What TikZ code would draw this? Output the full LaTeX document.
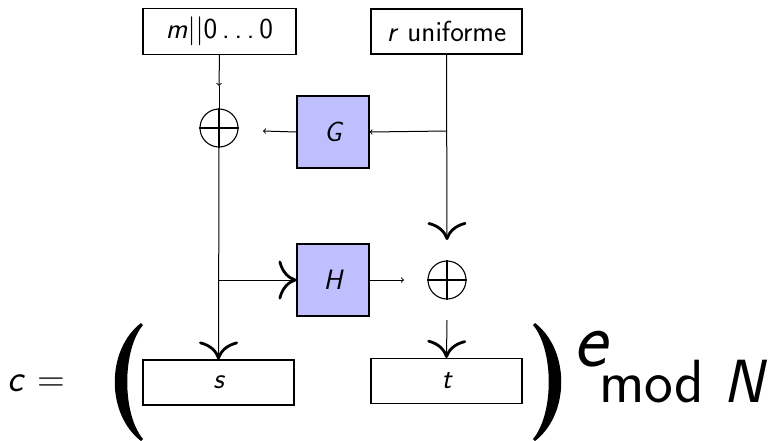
\documentclass[tikz,border=0pt]{standalone}
\usepackage{amsmath}
\usetikzlibrary{arrows.meta}

\tikzset{
  every node/.style={font=\sffamily},
  txt/.style={inner sep=0pt, outer sep=0pt},
  regbox/.style={draw, line width=1.1pt, minimum width=151pt, minimum height=46pt,
    inner sep=0pt, font=\sffamily\fontsize{29}{34}\selectfont},
  fnbox/.style={draw, line width=1.1pt, fill=blue!25, minimum size=72pt, inner sep=0pt,
    font=\sffamily\itshape\fontsize{28}{32}\selectfont},
  xorop/.style={draw, circle, line width=1.1pt, minimum size=38pt, inner sep=0pt},
  wire/.style={line width=1pt},
  small/.style={wire, -to},
  big/.style={wire, -{Computer Modern Rightarrow[length=18pt, width=39pt, line width=2.8pt]}},
  paren/.style={fill=black},
}

\begin{document}
\begin{tikzpicture}[x=1pt, y=-1pt]
\useasboundingbox (0,0) rectangle (772,440);

% input registers
\node[regbox, minimum width=153pt] (mbox) at (219.5,31.5) {\textit{m}||0\,.\,.\,.\,0};
\node[regbox, minimum height=45pt] (rbox) at (446.5,31.5) {\textit{r} uniforme};

% hash functions
\node[fnbox] (G) at (333,132) {G};
\node[fnbox] (H) at (333,280) {H};

% xor gates
\node[xorop] (x1) at (219,128) {};
\node[xorop] (x2) at (447,280) {};
\draw[line width=1.1pt] (x1.north) -- (x1.south) (x1.west) -- (x1.east);
\draw[line width=1.1pt] (x2.north) -- (x2.south) (x2.west) -- (x2.east);

% output registers
\node[regbox, minimum height=45pt, font=\sffamily\itshape\fontsize{29}{34}\selectfont] (s) at (218.5,382.5) {s};
\node[regbox, minimum height=45pt, font=\sffamily\itshape\fontsize{29}{34}\selectfont] (t) at (446.5,381) {t};

% junction points and free arrow ends
\coordinate (mtip) at (219,86);
\coordinate (rg) at (447,131);
\coordinate (gtip) at (263,131);
\coordinate (br) at (219,280);
\coordinate (rtip) at (447,240);
\coordinate (htip) at (404,280);
\coordinate (x2out) at (447,320);

% connectors
\draw[small] (mbox.south) -- (mtip);
\draw[wire] (mtip) -- (x1.north);
\draw[big] (x1.south) -- (s.north);
\draw[big] (br) -- (H.west);
\draw[big] (rbox.south) -- (rtip);
\draw[small] (rg) -- (G.east);
\draw[small] (G.west) -- (gtip);
\draw[small] (H.east) -- (htip);
\draw[big] (x2out) -- (t.north);

% the enclosing formula: c = ( s t )^e mod N
\node[txt, anchor=base west, font=\sffamily\fontsize{38}{42}\selectfont] (ceq) at (8,391) {\textit{c} =};
% large delimiters
\fill[paren] (141,323) .. controls (106,350) and (106,414) .. (141,441)
  -- (143,439) .. controls (122,414) and (122,350) .. (143,325) -- cycle;
\fill[paren] (535,323) .. controls (570,350) and (570,414) .. (535,441)
  -- (533,439) .. controls (554,414) and (554,350) .. (533,325) -- cycle;
\node[txt, anchor=base west, font=\sffamily\itshape\fontsize{80}{84}\selectfont] (expo) at (573,366) {e};
\node[txt, anchor=base west, font=\sffamily\fontsize{61}{66}\selectfont] (modn) at (599,402) {mod \textit{N}};
\end{tikzpicture}
\end{document}
